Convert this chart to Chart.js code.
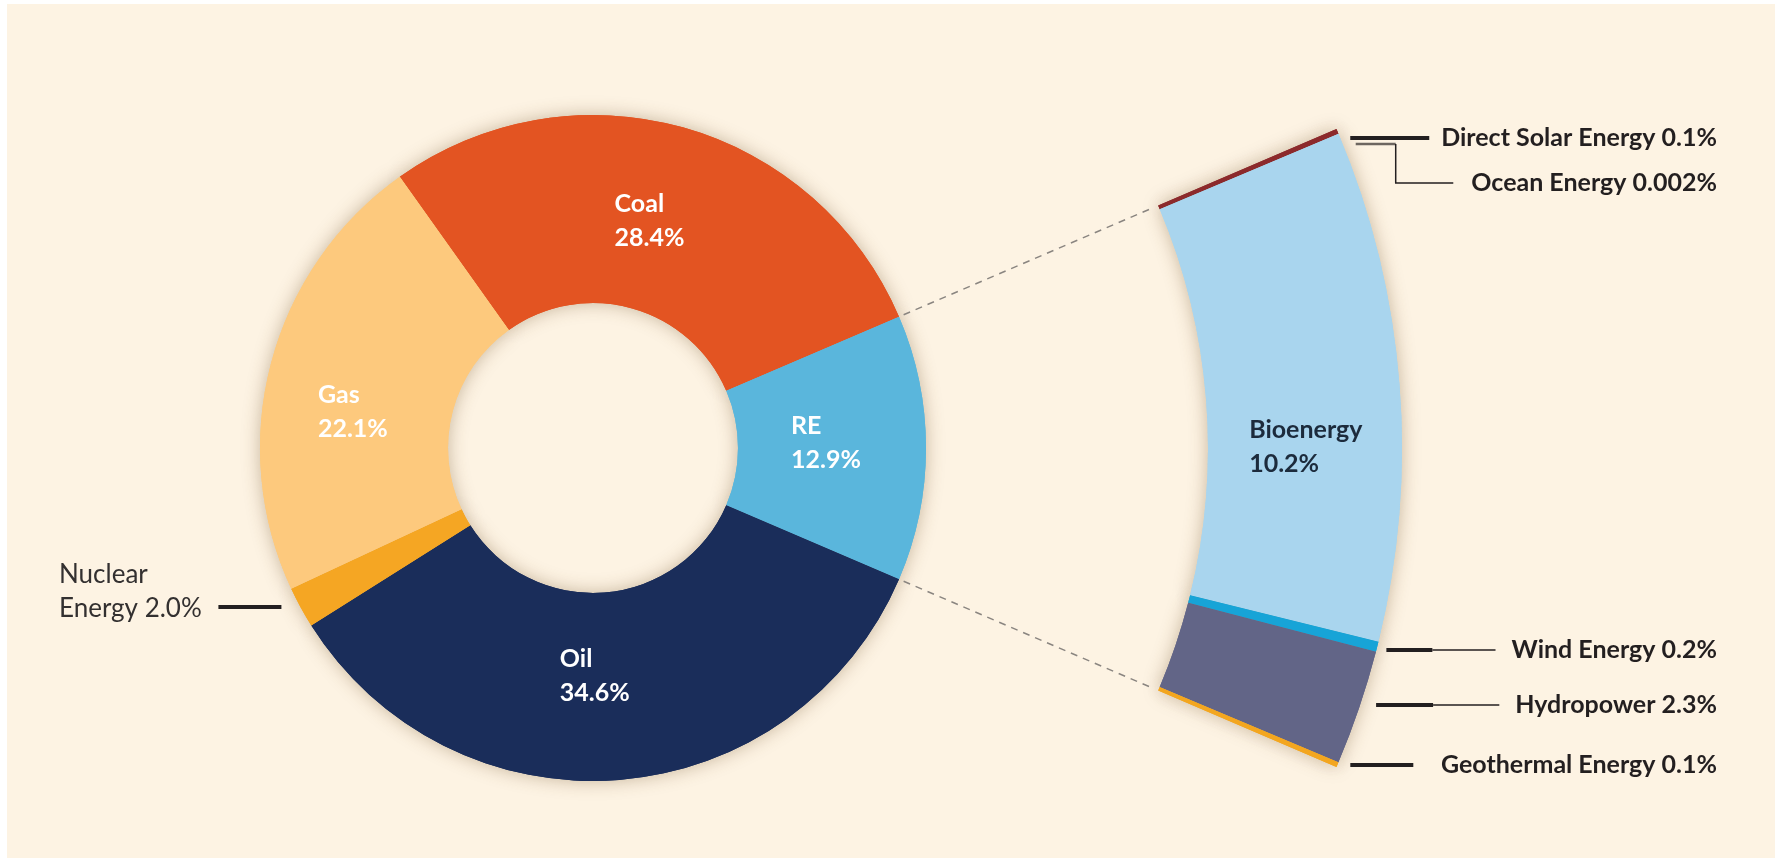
<!DOCTYPE html>
<html>
<head>
<meta charset="utf-8">
<script src="https://cdn.jsdelivr.net/npm/chart.js@4.4.0/dist/chart.umd.min.js"></script>
<style>
  html, body { margin: 0; padding: 0; background: #fff; overflow: hidden; }
  #paper { position: absolute; left: 7px; top: 4px; width: 1768px; height: 854px; background: #fdf3e3; }
  #chart { position: absolute; left: 0; top: 0; }
</style>
</head>
<body>
<div id="paper"></div>
<canvas id="chart" width="1775" height="863"></canvas>
<script>
// shares of global primary energy supply, %
const sources = ['Coal', 'RE', 'Oil', 'Nuclear Energy', 'Gas']
const shares = [28.4, 12.9, 34.6, 2.0, 22.1]
const sourceColors = ['#e35422', '#5ab6dc', '#1a2d5a', '#f5a623', '#fdc97d']

// the RE slice split up, %
const reSources = ['Direct Solar Energy', 'Ocean Energy', 'Bioenergy', 'Wind Energy', 'Hydropower', 'Geothermal Energy']
const reShares = [0.1, 0.002, 10.2, 0.2, 2.3, 0.1]
const reColors = ['#8c2a2c', '#6b3030', '#a9d5ee', '#17a4d7', '#626587', '#f3a61f']

const clear = 'rgba(0,0,0,0)'

// outer ring: only the RE parts are visible, the rest keeps them lined up with the RE slice
const ringData = [shares[0]].concat(reShares, shares.slice(2))
const ringColors = [clear].concat(reColors, shares.slice(2).map(() => clear))

// turn the pie so that RE sits on the right
const total = shares.reduce((a, b) => a + b, 0)
const rotation = 90 - (shares[0] + shares[1] / 2) / total * 360

function pct (v) {
  return (v >= 0.01 ? v.toFixed(1) : String(v)) + '%'
}

const labelPlugin = {
  id: 'energyLabels',
  beforeDatasetDraw (chart, args) {
    // soft shadow under the rings, drawn once then covered by the normal pass
    if (args.index === 1) return
    const ctx = chart.ctx
    ctx.save()
    ctx.shadowColor = 'rgba(110, 80, 40, 0.38)'
    ctx.shadowBlur = 18
    args.meta.data.forEach(arc => arc.draw(ctx))
    ctx.restore()
  },
  afterDatasetsDraw (chart) {
    const ctx = chart.ctx
    const ring = chart.getDatasetMeta(0).data
    const main = chart.getDatasetMeta(2).data
    const reArc = main[1]
    const cx = reArc.x, cy = reArc.y
    const R = ring[1].outerRadius, r = ring[1].innerRadius, Rm = reArc.outerRadius
    const pt = (rad, a) => [cx + rad * Math.cos(a), cy + rad * Math.sin(a)]

    // dashed lines from the RE slice to the blown up ring
    ctx.save()
    ctx.setLineDash([7, 6])
    ctx.strokeStyle = '#8a8580'
    ctx.lineWidth = 1.5
    ;[reArc.startAngle, reArc.endAngle].forEach(a => {
      const p0 = pt(Rm + 5, a), p1 = pt(r - 5, a)
      ctx.beginPath()
      ctx.moveTo(p0[0], p0[1])
      ctx.lineTo(p1[0], p1[1])
      ctx.stroke()
    })
    ctx.restore()

    ctx.save()
    ctx.textBaseline = 'middle'
    ctx.textAlign = 'left'

    const lineH = 34
    function block (arc, lines, color, nudge) {
      const mid = (arc.startAngle + arc.endAngle) / 2
      const p = pt((arc.innerRadius + arc.outerRadius) / 2, mid)
      const w = Math.max(...lines.map(t => ctx.measureText(t).width))
      const left = p[0] - w / 2 + (nudge[0] || 0)
      const y0 = p[1] + (nudge[1] || 0) - lineH * (lines.length - 1) / 2
      ctx.fillStyle = color
      lines.forEach((t, i) => ctx.fillText(t, left, y0 + i * lineH))
    }

    ctx.font = 'bold 25px Lato'
    const nudges = { Coal: [-8, 3], RE: [-6, -5], Oil: [-17, -10], Gas: [-9, 25] }
    sources.forEach((name, i) => {
      if (!nudges[name]) return
      block(main[i], [name, pct(shares[i])], '#ffffff', nudges[name])
    })
    block(ring[3], [reSources[2], pct(reShares[2])], '#1c2b3c', [3, 55])

    // callouts on the right
    const edgeX = y => cx + Math.sqrt(R * R - (y - cy) * (y - cy))
    const textRight = 1717
    ctx.font = 'bold 25px Lato'
    ctx.textAlign = 'right'
    ctx.fillStyle = '#231f20'
    ctx.strokeStyle = '#231f20'
    const callouts = [
      { i: 0, y: 138, gap: 10, thick: 79 },
      { i: 3, y: 650, gap: 10, thick: 46 },
      { i: 4, y: 705, gap: 16, thick: 57 },
      { i: 5, y: 765, gap: 13, thick: 63 }
    ]
    callouts.forEach(c => {
      const text = reSources[c.i] + ' ' + pct(reShares[c.i])
      const tw = ctx.measureText(text).width
      ctx.fillText(text, textRight, c.y)
      const x0 = edgeX(c.y) + c.gap
      const x1 = x0 + c.thick
      const xText = textRight - tw - 16
      ctx.lineWidth = 4
      ctx.beginPath(); ctx.moveTo(x0, c.y); ctx.lineTo(x1, c.y); ctx.stroke()
      if (xText > x1 + 25) {
        ctx.lineWidth = 1.5
        ctx.beginPath(); ctx.moveTo(x1, c.y); ctx.lineTo(xText, c.y); ctx.stroke()
      }
    })

    // ocean energy, elbow leader under the solar one
    const oceanY = 183, elbowY = 144
    const oceanText = reSources[1] + ' ' + pct(reShares[1])
    ctx.fillText(oceanText, textRight, oceanY)
    const ox0 = edgeX(elbowY) + 13
    ctx.strokeStyle = '#6d6660'
    ctx.lineWidth = 2.5
    ctx.beginPath(); ctx.moveTo(ox0, elbowY); ctx.lineTo(ox0 + 40, elbowY); ctx.stroke()
    ctx.strokeStyle = '#231f20'
    ctx.lineWidth = 1.5
    ctx.beginPath()
    ctx.moveTo(ox0 + 40, elbowY)
    ctx.lineTo(ox0 + 40, oceanY)
    ctx.lineTo(textRight - ctx.measureText(oceanText).width - 18, oceanY)
    ctx.stroke()

    // nuclear energy on the left
    const nucY = 609
    ctx.font = '26px Lato'
    ctx.textAlign = 'left'
    ctx.fillStyle = '#333030'
    const nuc = sources[3].split(' ')
    ctx.fillText(nuc[0], 59, nucY - 34)
    ctx.fillText(nuc[1] + ' ' + pct(shares[3]), 59, nucY)
    const nx0 = cx - Math.sqrt(Rm * Rm - (nucY - 2 - cy) * (nucY - 2 - cy)) - 19
    ctx.strokeStyle = '#231f20'
    ctx.lineWidth = 4
    ctx.beginPath(); ctx.moveTo(nx0, nucY - 2); ctx.lineTo(nx0 - 63, nucY - 2); ctx.stroke()
    ctx.restore()
  }
}

new Chart(document.getElementById('chart'), {
  type: 'doughnut',
  data: {
    labels: sources,
    datasets: [
      { data: ringData, backgroundColor: ringColors, borderWidth: 0, weight: 194 },
      { data: [1], backgroundColor: [clear], borderWidth: 0, weight: 282 },
      { data: shares, backgroundColor: sourceColors, borderWidth: 0, weight: 188 }
    ]
  },
  options: {
    responsive: false,
    animation: false,
    events: [],
    radius: 809,
    cutout: (145 / 809 * 100) + '%',
    rotation: rotation,
    layout: { padding: { left: 0, right: 589, top: 33, bottom: 0 } },
    plugins: {
      legend: { display: false },
      tooltip: { enabled: false }
    }
  },
  plugins: [labelPlugin]
})
</script>
</body>
</html>
